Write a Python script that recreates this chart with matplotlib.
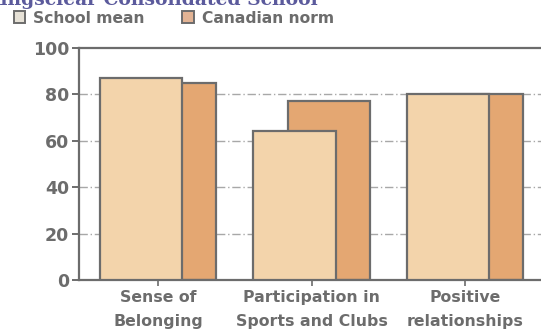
import matplotlib
matplotlib.use("Agg")
import matplotlib.pyplot as plt
import numpy as np
from matplotlib.patches import Patch

categories = ["Sense of\nBelonging", "Participation in\nSports and Clubs", "Positive\nrelationships"]
school_mean = [87, 64, 80]
canadian_norm = [85, 77, 80]
series_names = ["School mean", "Canadian norm"]
yticks = [0, 20, 40, 60, 80, 100]

grey = "#6c6c6c"
school_color = "#f3d4ab"
norm_color = "#e4a772"

fig = plt.figure(figsize=(5.41, 3.35), dpi=100)
ax = fig.add_axes([0.146, 0.164, 0.854, 0.693])

x = np.arange(len(categories))
width = 0.535
shift = 0.111

# Canadian norm bars sit behind the school bars, offset to the right
ax.bar(x + shift, canadian_norm, width=width, color=norm_color,
       edgecolor=grey, linewidth=1.6, zorder=2)
ax.bar(x - shift, school_mean, width=width, color=school_color,
       edgecolor=grey, linewidth=1.6, zorder=3)

ax.set_xlim(-0.515, 2.495)
ax.set_ylim(0, 100)
ax.set_yticks(yticks)
ax.set_yticklabels([str(v) for v in yticks])
ax.set_xticks(x)
ax.set_xticklabels(categories, linespacing=1.75)

for v in yticks[1:-1]:
    ax.axhline(v, color="#a8a8a8", linewidth=1.0, linestyle=(0, (6, 2, 1, 2)),
               zorder=1)

for side in ["left", "bottom", "top"]:
    ax.spines[side].set_color(grey)
    ax.spines[side].set_linewidth(1.6)
ax.spines["right"].set_visible(False)

ax.tick_params(axis="y", length=5, width=1.4, color=grey, labelcolor=grey,
               labelsize=12.5, pad=2)
ax.tick_params(axis="x", length=4, width=1.2, color=grey, labelcolor=grey,
               labelsize=11.3, pad=3)
for lbl in ax.get_yticklabels():
    lbl.set_fontweight("bold")
    lbl.set_fontfamily("DejaVu Sans")
for lbl in ax.get_xticklabels():
    lbl.set_fontweight("bold")
    lbl.set_fontfamily("DejaVu Sans")

# School name heading, partly above the top edge
fig.text(-0.03, 1.0, "Kingsclear Consolidated School", color="#5b5a9c",
         fontsize=13.5, fontweight="bold", family="DejaVu Serif",
         ha="left", va="center")

handles = [Patch(facecolor="#e6e1d6", edgecolor=grey, linewidth=1.4),
           Patch(facecolor="#e2b394", edgecolor=grey, linewidth=1.4)]
leg = fig.legend(handles, series_names, loc="upper left",
                 bbox_to_anchor=(0.014, 0.987), ncol=2, frameon=False,
                 handlelength=0.75, handleheight=0.75, handletextpad=0.5,
                 columnspacing=2.4, borderaxespad=0,
                 prop={"weight": "bold", "size": 11.2, "family": "DejaVu Sans"})
for t in leg.get_texts():
    t.set_color(grey)

fig.savefig("out.png", dpi=100)
